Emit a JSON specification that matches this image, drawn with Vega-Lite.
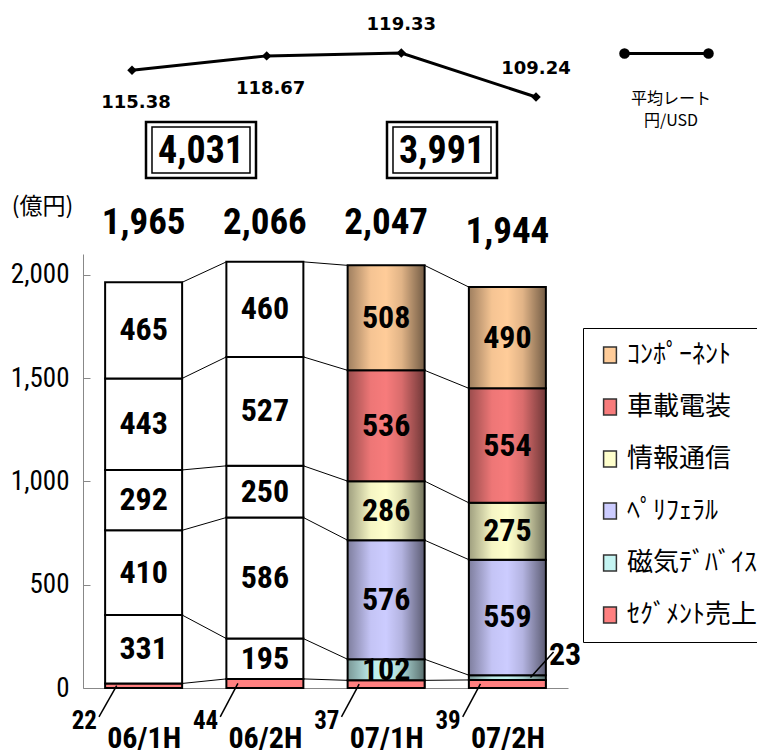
{
  "$schema": "https://vega.github.io/schema/vega-lite/v6.json",
  "autosize": "none",
  "width": 485,
  "height": 434,
  "padding": {"left": 83, "top": 254, "right": 189, "bottom": 66},
  "background": "white",
  "config": {
    "view": {"stroke": null},
    "text": {"color": "black"}
  },
  "datasets": {
    "segments": [
      {"period": "06/1H", "series": "ｾｸﾞﾒﾝﾄ売上", "value": 22},
      {"period": "06/1H", "series": "磁気ﾃﾞﾊﾞｲｽ", "value": 331},
      {"period": "06/1H", "series": "ﾍﾟﾘﾌｪﾗﾙ", "value": 410},
      {"period": "06/1H", "series": "情報通信", "value": 292},
      {"period": "06/1H", "series": "車載電装", "value": 443},
      {"period": "06/1H", "series": "ｺﾝﾎﾟｰﾈﾝﾄ", "value": 465},
      {"period": "06/2H", "series": "ｾｸﾞﾒﾝﾄ売上", "value": 44},
      {"period": "06/2H", "series": "磁気ﾃﾞﾊﾞｲｽ", "value": 195},
      {"period": "06/2H", "series": "ﾍﾟﾘﾌｪﾗﾙ", "value": 586},
      {"period": "06/2H", "series": "情報通信", "value": 250},
      {"period": "06/2H", "series": "車載電装", "value": 527},
      {"period": "06/2H", "series": "ｺﾝﾎﾟｰﾈﾝﾄ", "value": 460},
      {"period": "07/1H", "series": "ｾｸﾞﾒﾝﾄ売上", "value": 37},
      {"period": "07/1H", "series": "磁気ﾃﾞﾊﾞｲｽ", "value": 102},
      {"period": "07/1H", "series": "ﾍﾟﾘﾌｪﾗﾙ", "value": 576},
      {"period": "07/1H", "series": "情報通信", "value": 286},
      {"period": "07/1H", "series": "車載電装", "value": 536},
      {"period": "07/1H", "series": "ｺﾝﾎﾟｰﾈﾝﾄ", "value": 508},
      {"period": "07/2H", "series": "ｾｸﾞﾒﾝﾄ売上", "value": 39},
      {"period": "07/2H", "series": "磁気ﾃﾞﾊﾞｲｽ", "value": 23},
      {"period": "07/2H", "series": "ﾍﾟﾘﾌｪﾗﾙ", "value": 559},
      {"period": "07/2H", "series": "情報通信", "value": 275},
      {"period": "07/2H", "series": "車載電装", "value": 554},
      {"period": "07/2H", "series": "ｺﾝﾎﾟｰﾈﾝﾄ", "value": 490}
    ],
    "totals": [
      {"period": "06/1H", "total": 1965},
      {"period": "06/2H", "total": 2066},
      {"period": "07/1H", "total": 2047},
      {"period": "07/2H", "total": 1944}
    ],
    "rates": [
      {"period": "06/1H", "name": "平均レート", "rate": 115.38},
      {"period": "06/2H", "name": "平均レート", "rate": 118.67},
      {"period": "07/1H", "name": "平均レート", "rate": 119.33},
      {"period": "07/2H", "name": "平均レート", "rate": 109.24}
    ],
    "halves": [
      {"year": "06", "total": 4031},
      {"year": "07", "total": 3991}
    ]
  },
  "layer": [
    {
      "data": {"name": "segments"},
      "transform": [{"stack": "value", "groupby": ["period"], "as": ["y0", "y1"]}],
      "mark": {"type": "bar", "stroke": "black", "strokeWidth": 2},
      "encoding": {
        "x": {
          "field": "period",
          "type": "nominal",
          "scale": {"type": "band", "domain": ["06/1H", "06/2H", "07/1H", "07/2H"], "paddingInner": 0.365, "paddingOuter": 0.1825},
          "axis": {
            "title": null,
            "labelAngle": 0,
            "labelFont": "Roboto Condensed, Liberation Sans, sans-serif",
            "labelFontSize": 30,
            "labelFontWeight": "bold",
            "labelColor": "black",
            "labelPadding": 43,
            "tickBand": "extent",
            "tickSize": -8,
            "tickColor": "#888888",
            "domainColor": "#888888"
          }
        },
        "y": {
          "field": "y0",
          "type": "quantitative",
          "scale": {"domain": [0, 2100], "nice": false},
          "axis": {
            "values": [0, 500, 1000, 1500, 2000],
            "format": ",.0f",
            "grid": false,
            "labelFont": "Roboto Condensed, Liberation Sans, sans-serif",
            "labelFontSize": 27,
            "labelColor": "black",
            "labelPadding": 21,
            "tickSize": -7,
            "tickColor": "#888888",
            "domainColor": "#888888",
            "title": "(億円)",
            "titleFont": "Noto Sans CJK JP",
            "titleFontSize": 23,
            "titleFontWeight": "normal",
            "titleColor": "black",
            "titleAngle": 0,
            "titleAlign": "center",
            "titleBaseline": "middle",
            "titleX": -41,
            "titleY": -48
          }
        },
        "y2": {"field": "y1"},
        "fill": {
          "field": "series",
          "type": "nominal",
          "scale": {
            "domain": ["ｺﾝﾎﾟｰﾈﾝﾄ", "車載電装", "情報通信", "ﾍﾟﾘﾌｪﾗﾙ", "磁気ﾃﾞﾊﾞｲｽ", "ｾｸﾞﾒﾝﾄ売上"],
            "range": ["#FFCC99", "#F77B7B", "#FFFFCC", "#CCCCFF", "#C4F4F2", "#FF8080"]
          },
          "condition": {"test": "datum.period < '07' && datum.series !== 'ｾｸﾞﾒﾝﾄ売上'", "value": "white"},
          "legend": {
            "orient": "none",
            "legendX": 500,
            "legendY": 74,
            "direction": "vertical",
            "title": null,
            "padding": 14,
            "strokeColor": "black",
            "fillColor": "white",
            "labelFont": "Noto Sans CJK JP",
            "labelFontSize": 26,
            "labelColor": "black",
            "labelLimit": 400,
            "labelOffset": 4,
            "rowPadding": 26,
            "symbolType": "M-0.8,-1H0.8V1H-0.8Z",
            "symbolSize": 256,
            "symbolStrokeColor": "#333333",
            "symbolStrokeWidth": 1.5,
            "symbolOpacity": 1
          }
        }
      }
    },
    {
      "data": {"name": "segments"},
      "transform": [
        {"stack": "value", "groupby": ["period"], "as": ["y0", "y1"]},
        {"filter": "datum.period >= '07' && datum.series !== 'ｾｸﾞﾒﾝﾄ売上'"}
      ],
      "mark": {
        "type": "bar",
        "fill": {
          "gradient": "linear",
          "x1": 0, "y1": 0, "x2": 1, "y2": 0,
          "stops": [
            {"offset": 0, "color": "rgba(0,0,0,0.38)"},
            {"offset": 0.3, "color": "rgba(0,0,0,0.04)"},
            {"offset": 0.5, "color": "rgba(0,0,0,0)"},
            {"offset": 0.7, "color": "rgba(0,0,0,0.12)"},
            {"offset": 1, "color": "rgba(0,0,0,0.55)"}
          ]
        }
      },
      "encoding": {
        "x": {"field": "period", "type": "nominal", "scale": {"type": "band", "domain": ["06/1H", "06/2H", "07/1H", "07/2H"], "paddingInner": 0.365, "paddingOuter": 0.1825}, "axis": null},
        "y": {"field": "y0", "type": "quantitative", "scale": {"domain": [0, 2100], "nice": false}, "axis": null},
        "y2": {"field": "y1"}
      }
    },
    {
      "data": {"name": "segments"},
      "transform": [
        {"stack": "value", "groupby": ["period"], "as": ["y0", "y1"]},
        {"window": [{"op": "lead", "field": "y1", "as": "next_y1"}, {"op": "lead", "field": "period", "as": "next_period"}], "groupby": ["series"], "sort": [{"field": "period", "order": "ascending"}]},
        {"filter": "datum.next_period != null"}
      ],
      "mark": {"type": "rule", "color": "black", "strokeWidth": 1},
      "encoding": {
        "x": {"field": "period", "type": "nominal", "bandPosition": 1, "scale": {"type": "band", "domain": ["06/1H", "06/2H", "07/1H", "07/2H"], "paddingInner": 0.365, "paddingOuter": 0.1825}, "axis": null},
        "x2": {"field": "next_period", "bandPosition": 0},
        "y": {"field": "y1", "type": "quantitative", "scale": {"domain": [0, 2100], "nice": false}, "axis": null},
        "y2": {"field": "next_y1"}
      }
    },
    {
      "data": {"name": "segments"},
      "transform": [
        {"stack": "value", "groupby": ["period"], "as": ["y0", "y1"]},
        {"fold": ["y0", "y1"], "as": ["edge", "pos"]},
        {"aggregate": [{"op": "mean", "field": "pos", "as": "mid"}], "groupby": ["period", "series", "value"]}
      ],
      "encoding": {
        "x": {"field": "period", "type": "nominal", "scale": {"type": "band", "domain": ["06/1H", "06/2H", "07/1H", "07/2H"], "paddingInner": 0.365, "paddingOuter": 0.1825}, "axis": null},
        "y": {"field": "mid", "type": "quantitative", "scale": {"domain": [0, 2100], "nice": false}, "axis": null}
      },
      "layer": [
        {
          "transform": [{"filter": "datum.value >= 50"}],
          "mark": {"type": "text", "font": "Roboto Condensed, Liberation Sans, sans-serif", "fontSize": 32, "fontWeight": "bold", "baseline": "middle"},
          "encoding": {"text": {"field": "value", "type": "quantitative"}}
        },
        {
          "transform": [{"filter": "datum.series === 'ｾｸﾞﾒﾝﾄ売上'"}],
          "mark": {"type": "rule", "color": "black", "strokeWidth": 1.5},
          "encoding": {
            "x": {"field": "period", "type": "nominal", "bandPosition": 0.15},
            "x2": {"field": "period", "bandPosition": -0.08},
            "y2": {"datum": -140}
          }
        },
        {
          "transform": [{"filter": "datum.series === 'ｾｸﾞﾒﾝﾄ売上'"}],
          "mark": {"type": "text", "font": "Roboto Condensed, Liberation Sans, sans-serif", "fontSize": 25, "fontWeight": "bold", "baseline": "middle"},
          "encoding": {
            "x": {"field": "period", "type": "nominal", "bandPosition": -0.27},
            "y": {"datum": -160, "type": "quantitative"},
            "text": {"field": "value", "type": "quantitative"}
          }
        },
        {
          "transform": [{"filter": "datum.series !== 'ｾｸﾞﾒﾝﾄ売上' && datum.value < 50"}],
          "mark": {"type": "rule", "color": "black", "strokeWidth": 1.5},
          "encoding": {
            "x": {"field": "period", "type": "nominal", "bandPosition": 0.8},
            "x2": {"field": "period", "bandPosition": 1.1},
            "y2": {"datum": 174}
          }
        },
        {
          "transform": [{"filter": "datum.series !== 'ｾｸﾞﾒﾝﾄ売上' && datum.value < 50"}],
          "mark": {"type": "text", "font": "Roboto Condensed, Liberation Sans, sans-serif", "fontSize": 32, "fontWeight": "bold", "baseline": "middle"},
          "encoding": {
            "x": {"field": "period", "type": "nominal", "bandPosition": 1.25},
            "y": {"datum": 160, "type": "quantitative"},
            "text": {"field": "value", "type": "quantitative"}
          }
        }
      ]
    },
    {
      "data": {"name": "totals"},
      "encoding": {
        "x": {"field": "period", "type": "nominal", "scale": {"type": "band", "domain": ["06/1H", "06/2H", "07/1H", "07/2H"], "paddingInner": 0.365, "paddingOuter": 0.1825}, "axis": null},
        "text": {"field": "total", "type": "quantitative", "format": ","}
      },
      "layer": [
        {
          "transform": [{"filter": "datum.period !== '07/2H'"}],
          "mark": {"type": "text", "font": "Roboto Condensed, Liberation Sans, sans-serif", "fontSize": 37, "fontWeight": "bold", "baseline": "middle"},
          "encoding": {"y": {"datum": 2250, "type": "quantitative", "scale": {"domain": [0, 2100], "nice": false}, "axis": null}}
        },
        {
          "transform": [{"filter": "datum.period === '07/2H'"}],
          "mark": {"type": "text", "font": "Roboto Condensed, Liberation Sans, sans-serif", "fontSize": 37, "fontWeight": "bold", "baseline": "middle"},
          "encoding": {"y": {"datum": 2206, "type": "quantitative", "scale": {"domain": [0, 2100], "nice": false}, "axis": null}}
        }
      ]
    },
    {
      "data": {"name": "rates"},
      "encoding": {
        "x": {"field": "period", "type": "nominal", "scale": {"type": "point", "domain": ["06/1H", "06/2H", "07/1H", "07/2H"], "range": [49, 453], "padding": 0}, "axis": null},
        "y": {"field": "rate", "type": "quantitative", "scale": {"domain": [109.24, 119.33], "range": [-157, -201], "zero": false, "nice": false}, "axis": null}
      },
      "layer": [
        {
          "mark": {"type": "line", "strokeWidth": 3},
          "encoding": {
            "stroke": {
              "field": "name",
              "type": "nominal",
              "scale": {"range": ["black"]},
              "legend": {
                "orient": "none",
                "legendX": 540,
                "legendY": -244,
                "padding": 0,
                "title": ["平均レート", "円/USD"],
                "titleOrient": "bottom",
                "titleAnchor": "middle",
                "titleAlign": "center",
                "titleFont": "Noto Sans CJK JP",
                "titleFontSize": 16,
                "titleFontWeight": "normal",
                "titleColor": "black",
                "titleLineHeight": 22,
                "titlePadding": 28,
                "labelExpr": "''",
                "labelOffset": 0,
                "symbolType": "M-1,0H1M-1.09,0A0.09,0.09 0 1 0 -0.91,0A0.09,0.09 0 1 0 -1.09,0ZM-1.035,0A0.035,0.035 0 1 0 -0.965,0A0.035,0.035 0 1 0 -1.035,0ZM0.91,0A0.09,0.09 0 1 0 1.09,0A0.09,0.09 0 1 0 0.91,0ZM0.965,0A0.035,0.035 0 1 0 1.035,0A0.035,0.035 0 1 0 0.965,0Z",
                "symbolSize": 7056,
                "symbolStrokeWidth": 3,
                "symbolStrokeColor": "black",
                "symbolFillColor": "black"
              }
            }
          }
        },
        {
          "mark": {"type": "point", "shape": "diamond", "size": 90, "filled": true, "color": "black", "opacity": 1}
        },
        {
          "transform": [{"filter": "datum.period < '07'"}],
          "mark": {"type": "text", "font": "DejaVu Sans", "fontSize": 18, "fontWeight": "bold", "baseline": "middle", "dx": 4, "dy": 33},
          "encoding": {"text": {"field": "rate", "type": "quantitative", "format": ".2f"}}
        },
        {
          "transform": [{"filter": "datum.period >= '07'"}],
          "mark": {"type": "text", "font": "DejaVu Sans", "fontSize": 18, "fontWeight": "bold", "baseline": "middle", "dy": -28},
          "encoding": {"text": {"field": "rate", "type": "quantitative", "format": ".2f"}}
        }
      ]
    },
    {
      "data": {"name": "halves"},
      "encoding": {
        "x": {"field": "year", "type": "nominal", "scale": {"type": "point", "domain": ["06", "07"], "range": [118, 359], "padding": 0}, "axis": null},
        "y": {"datum": 2603, "type": "quantitative", "scale": {"domain": [0, 2100], "nice": false}, "axis": null}
      },
      "layer": [
        {
          "mark": {"type": "point", "shape": "M-1,-0.509H1V0.509H-1Z", "size": 12100, "filled": false, "stroke": "black", "strokeWidth": 2.5, "opacity": 1}
        },
        {
          "mark": {"type": "point", "shape": "M-0.891,-0.418H0.891V0.418H-0.891Z", "size": 12100, "filled": false, "stroke": "black", "strokeWidth": 1.5, "opacity": 1}
        },
        {
          "mark": {"type": "text", "font": "Roboto Condensed, Liberation Sans, sans-serif", "fontSize": 38, "fontWeight": "bold", "baseline": "middle", "dy": 2},
          "encoding": {"text": {"field": "total", "type": "quantitative", "format": ","}}
        }
      ]
    }
  ],
  "resolve": {"scale": {"x": "independent", "y": "independent"}}
}
